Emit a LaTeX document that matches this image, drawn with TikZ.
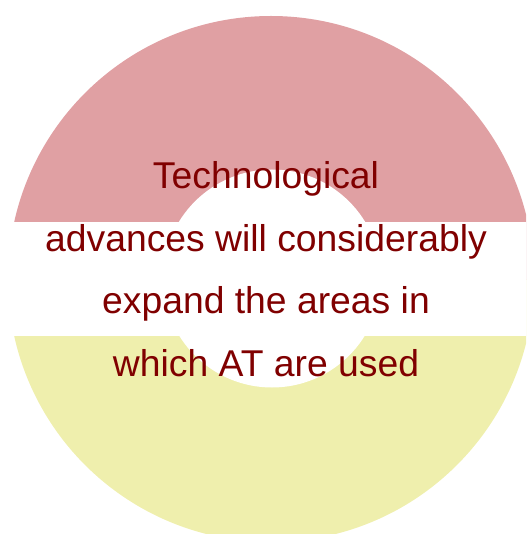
\documentclass[tikz,border=0pt]{standalone}
\usepackage{fontspec}
\setmainfont{Liberation Sans}
\definecolor{ringpink}{HTML}{E0A0A3}
\definecolor{ringyellow}{HTML}{EFEFAD}
\definecolor{txtred}{HTML}{800000}
\tikzset{
  line/.style={anchor=base, text=txtred, inner sep=0pt,
    font=\fontsize{37.3}{40}\selectfont}
}
\begin{document}
\begin{tikzpicture}[x=1pt,y=-1pt]
\useasboundingbox (0,0) rectangle (526,534);
\begin{scope}
\clip (0,0) rectangle (526,534);
% upper (pink) half of the ring
\begin{scope}
\clip (-10,-10) rectangle (540,279);
\fill[ringpink] (271,279) circle[radius=263];
\end{scope}
% lower (yellow) half of the ring
\begin{scope}
\clip (-10,279) rectangle (540,560);
\fill[ringyellow] (271,279) circle[radius=263];
\end{scope}
% hole and white band
\fill[white] (272,278.5) circle[radius=109];
\fill[white] (-10,222) rectangle (540,336);
\end{scope}
\node[line] (l1) at (266,189) {Technological};
\node[line] (l2) at (266,251) {advances will considerably};
\node[line] (l3) at (266,313) {expand the areas in};
\node[line] (l4) at (266,376) {which AT are used};
\end{tikzpicture}
\end{document}
